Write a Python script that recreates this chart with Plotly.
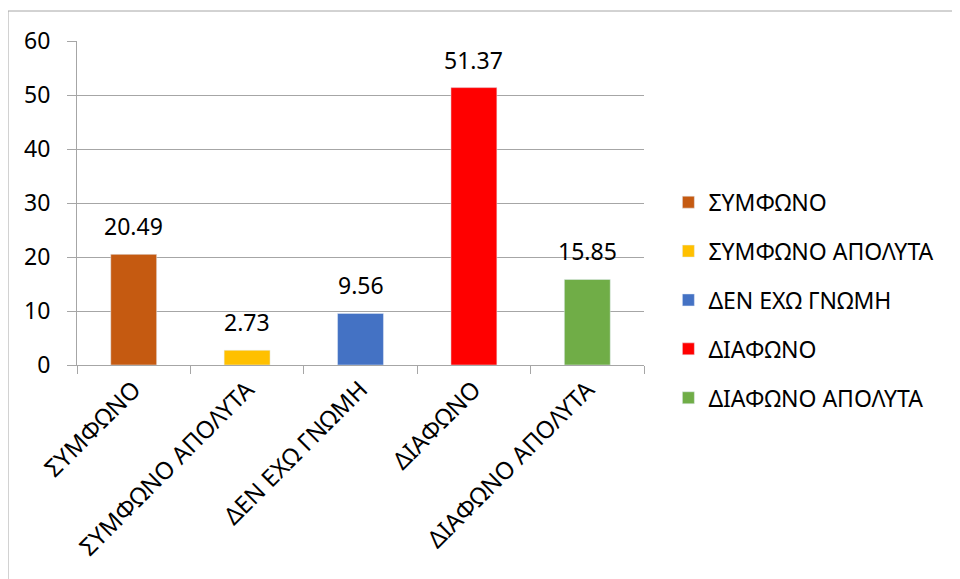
import plotly.graph_objects as go

categories = ["ΣΥΜΦΩΝΟ", "ΣΥΜΦΩΝΟ ΑΠΟΛΥΤΑ", "ΔΕΝ ΕΧΩ ΓΝΩΜΗ", "ΔΙΑΦΩΝΟ", "ΔΙΑΦΩΝΟ ΑΠΟΛΥΤΑ"]
values = [20.49, 2.73, 9.56, 51.37, 15.85]
colors = ["#C55A11", "#FFC000", "#4472C4", "#FF0000", "#70AD47"]
y_ticks = [0, 10, 20, 30, 40, 50, 60]

FONT = "Noto Sans"
GRID = "#A6A6A6"

fig = go.Figure()
for cat, val, col in zip(categories, values, colors):
    fig.add_trace(go.Bar(x=[cat], y=[val], name=cat, marker_color=col,
                         legendgroup=cat, width=0.405))
    fig.add_annotation(x=cat, y=val, text=f"{val:.2f}", showarrow=False,
                       yanchor="bottom", yshift=10,
                       font=dict(family=FONT, size=23, color="#000"))

# page has an 8px body margin, so offsets are compensated
W, H = 960, 579
l, r, t, b = 69, 324, 33, 222
pw, ph = W - l - r, H - t - b
bx0 = (0 - l) / pw
by1 = 1 + (t - 3) / ph
fig.add_shape(type="line", xref="paper", yref="paper", x0=bx0, x1=bx0,
              y0=by1, y1=-1, line=dict(color="#A6A6A6", width=1))
fig.add_shape(type="line", xref="paper", yref="paper", x0=bx0, x1=2,
              y0=by1, y1=by1, line=dict(color="#A6A6A6", width=1))

fig.update_layout(
    width=W, height=H,
    margin=dict(l=l, r=r, t=t, b=b, pad=0),
    paper_bgcolor="white", plot_bgcolor="white",
    barmode="relative",
    font=dict(family=FONT, size=23, color="#000"),
    legend=dict(x=1.043, y=0.2, yanchor="middle", xanchor="left",
                tracegroupgap=16, font=dict(size=23)),
)
fig.update_xaxes(
    categoryorder="array", categoryarray=categories,
    tickangle=-45, showline=True, linecolor=GRID, linewidth=1,
    ticks="outside", ticklen=8, tickcolor=GRID, tickson="boundaries",
    showgrid=False, tickfont=dict(size=24),
)
fig.update_yaxes(
    range=[0, 60], tickvals=y_ticks, showline=True, linecolor=GRID,
    linewidth=1, showgrid=True, gridcolor=GRID, gridwidth=1,
    ticks="outside", ticklen=9, tickcolor=GRID, ticklabelstandoff=12,
    zeroline=False, tickfont=dict(size=23),
)

fig.write_html("out.html")
